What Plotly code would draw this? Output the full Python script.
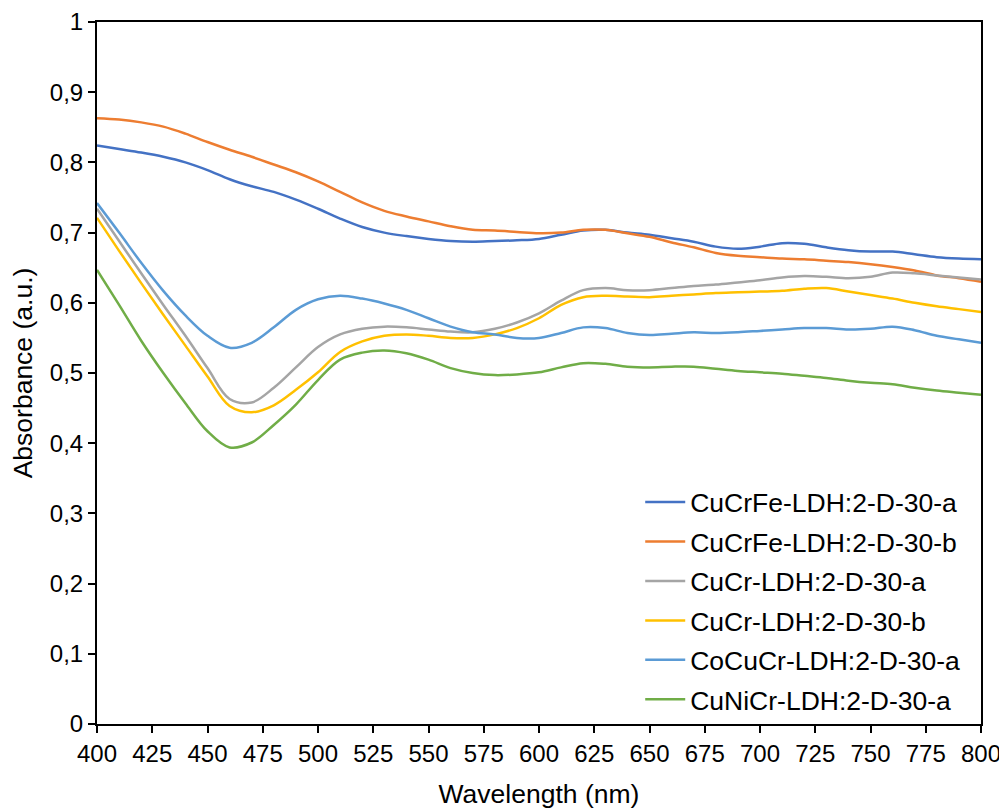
import plotly.graph_objects as go

wavelength = list(range(400, 801, 10))

cucrfe_a = [0.824, 0.819, 0.814, 0.808, 0.800, 0.789, 0.776, 0.766, 0.758, 0.747,
            0.734, 0.720, 0.708, 0.700, 0.695, 0.691, 0.688, 0.687, 0.688, 0.689,
            0.691, 0.697, 0.703, 0.704, 0.700, 0.697, 0.692, 0.687, 0.680, 0.677,
            0.680, 0.685, 0.684, 0.679, 0.675, 0.673, 0.673, 0.669, 0.665, 0.663, 0.662]
cucrfe_b = [0.863, 0.861, 0.857, 0.851, 0.841, 0.829, 0.818, 0.808, 0.797, 0.786,
            0.773, 0.758, 0.743, 0.731, 0.723, 0.716, 0.709, 0.704, 0.703, 0.701,
            0.699, 0.700, 0.704, 0.704, 0.699, 0.694, 0.686, 0.679, 0.671, 0.667,
            0.665, 0.663, 0.662, 0.660, 0.658, 0.655, 0.651, 0.646, 0.639, 0.635, 0.630]
cucr_a = [0.734, 0.688, 0.642, 0.597, 0.553, 0.507, 0.463, 0.458, 0.479, 0.508,
          0.537, 0.555, 0.563, 0.566, 0.565, 0.562, 0.559, 0.558, 0.563, 0.572,
          0.585, 0.603, 0.618, 0.621, 0.618, 0.618, 0.621, 0.624, 0.626, 0.629,
          0.632, 0.636, 0.638, 0.637, 0.635, 0.637, 0.643, 0.642, 0.639, 0.636, 0.633]
cucr_b = [0.721, 0.674, 0.628, 0.583, 0.539, 0.495, 0.453, 0.444, 0.454, 0.476,
          0.501, 0.530, 0.545, 0.553, 0.555, 0.553, 0.550, 0.550, 0.555, 0.564,
          0.578, 0.597, 0.608, 0.610, 0.609, 0.608, 0.610, 0.612, 0.614, 0.615,
          0.616, 0.617, 0.620, 0.621, 0.616, 0.611, 0.606, 0.600, 0.595, 0.591, 0.587]
cocucr_a = [0.742, 0.700, 0.657, 0.617, 0.582, 0.553, 0.536, 0.543, 0.565, 0.590,
            0.605, 0.610, 0.606, 0.599, 0.590, 0.578, 0.566, 0.558, 0.555, 0.550,
            0.550, 0.557, 0.565, 0.564, 0.557, 0.554, 0.556, 0.558, 0.557, 0.558,
            0.560, 0.562, 0.564, 0.564, 0.562, 0.563, 0.566, 0.561, 0.553, 0.548, 0.543]
cunicr_a = [0.647, 0.597, 0.546, 0.500, 0.457, 0.417, 0.394, 0.401, 0.426, 0.455,
            0.490, 0.519, 0.529, 0.532, 0.528, 0.519, 0.507, 0.500, 0.497, 0.498,
            0.501, 0.508, 0.514, 0.513, 0.509, 0.508, 0.509, 0.509, 0.506, 0.503,
            0.501, 0.499, 0.496, 0.493, 0.489, 0.486, 0.484, 0.479, 0.475, 0.472, 0.469]

series_names = ["CuCrFe-LDH:2-D-30-a", "CuCrFe-LDH:2-D-30-b", "CuCr-LDH:2-D-30-a",
                "CuCr-LDH:2-D-30-b", "CoCuCr-LDH:2-D-30-a", "CuNiCr-LDH:2-D-30-a"]
series_values = [cucrfe_a, cucrfe_b, cucr_a, cucr_b, cocucr_a, cunicr_a]
colors = ["#4472C4", "#ED7D31", "#A5A5A5", "#FFC000", "#5B9BD5", "#70AD47"]

x_ticks = list(range(400, 801, 25))
y_ticks = [0, 0.1, 0.2, 0.3, 0.4, 0.5, 0.6, 0.7, 0.8, 0.9, 1]
y_ticktext = ["0", "0,1", "0,2", "0,3", "0,4", "0,5", "0,6", "0,7", "0,8", "0,9", "1"]

FONT = "Liberation Sans, Arial, sans-serif"
TICK_SIZE = 24
TITLE_SIZE = 26.5

fig = go.Figure()
for i, (name, vals, col) in enumerate(zip(series_names, series_values, colors)):
    fig.add_trace(go.Scatter(
        x=wavelength, y=vals, mode="lines", name=name, legendgroup=f"g{i}",
        line=dict(color=col, width=2.5, shape="spline", smoothing=1.0),
    ))

# page body has an 8px margin, so the figure is sized/offset to compensate
fig.update_layout(
    width=999, height=801,
    margin=dict(l=89, r=26, t=14, b=85),
    paper_bgcolor="white", plot_bgcolor="white",
    font=dict(family=FONT, size=TICK_SIZE, color="black"),
    separators=", ",
    showlegend=True,
    legend=dict(
        x=0.6145, y=0.350, xanchor="left", yanchor="top",
        bgcolor="rgba(0,0,0,0)", borderwidth=0,
        font=dict(family=FONT, size=TITLE_SIZE, color="black"),
        traceorder="grouped", tracegroupgap=2, itemwidth=40,
    ),
)

fig.update_xaxes(
    range=[400, 800], tickvals=x_ticks, ticktext=[str(v) for v in x_ticks],
    showgrid=False, zeroline=False, automargin=False,
    showline=True, linecolor="black", linewidth=2, mirror=True,
    ticks="outside", ticklen=7, tickwidth=2, tickcolor="black",
    tickfont=dict(family=FONT, size=TICK_SIZE, color="black"),
    title=dict(text="Wavelength (nm)", font=dict(family=FONT, size=TITLE_SIZE, color="black"), standoff=28),
)
fig.update_yaxes(
    range=[0, 1], tickvals=y_ticks, ticktext=y_ticktext,
    showgrid=False, zeroline=False, automargin=False,
    showline=True, linecolor="black", linewidth=2, mirror=True,
    ticks="outside", ticklen=7, tickwidth=2, tickcolor="black",
    tickfont=dict(family=FONT, size=TICK_SIZE, color="black"),
    title=dict(text="Absorbance (a.u.)", font=dict(family=FONT, size=TITLE_SIZE, color="black"), standoff=11),
)

fig.write_html("out.html")
